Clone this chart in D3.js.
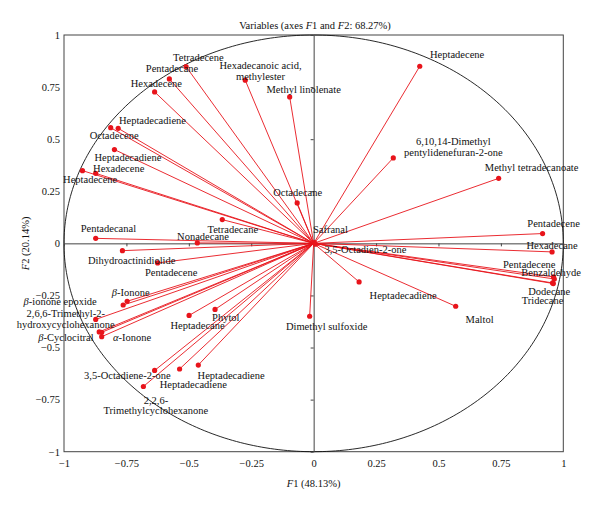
<!DOCTYPE html>
<html>
<head>
<meta charset="utf-8">
<script src="https://cdn.jsdelivr.net/npm/d3@7"></script>
<style>
  body { margin: 0; background: #fff; }
  svg text { font-family: "Liberation Serif", "DejaVu Serif", serif; }
</style>
</head>
<body>
<div id="chart"></div>
<script>
// Variable names (\n = line break in label)
const names = [
  'Tetradecene', 'Pentadecane', 'Hexadecene', 'Hexadecanoic acid,\nmethylester', 'Methyl linolenate',
  'Heptadecadiene', 'Octadecene', 'Heptadecadiene', 'Hexadecene', 'Heptadecene',
  'Octadecane', 'Tetradecane', 'Pentadecanal', 'Nonadecane', 'Dihydroactinidiolide',
  'Pentadecene', 'β-Ionone', 'β-ionone epoxide', '2,6,6-Trimethyl-2-\nhydroxycyclohexanone', 'β-Cyclocitral',
  '', 'α-Ionone', 'Heptadecane', 'Phytol', '3,5-Octadiene-2-one',
  '2,2,6-\nTrimethylcyclohexanone', 'Heptadecadiene', 'Heptadecadiene', 'Dimethyl sulfoxide', 'Heptadecene',
  '6,10,14-Dimethyl\npentylidenefuran-2-one', 'Methyl tetradecanoate', 'Pentadecene', 'Hexadecane', 'Pentadecene',
  'Benzaldehyde', 'Dodecane', 'Tridecane', 'Heptadecadiene', 'Maltol',
  'Safranal', '3,5-Octadien-2-one'
];
// Loadings on F1
const f1 = [
  -0.511, -0.578, -0.637, -0.274, -0.096,
  -0.783, -0.813, -0.798, -0.873, -0.926,
  -0.066, -0.366, -0.873, -0.466, -0.766,
  -0.625, -0.747, -0.763, -0.873, -0.859,
  -0.849, -0.849, -0.499, -0.395, -0.637,
  -0.682, -0.537, -0.462, -0.016, 0.425,
  0.319, 0.741, 0.917, 0.955, 0.961,
  0.964, 0.957, 0.960, 0.182, 0.569,
  0.003, 0.007
];
// Loadings on F2
const f2 = [
  0.848, 0.789, 0.727, 0.783, 0.703,
  0.552, 0.555, 0.450, 0.336, 0.349,
  0.194, 0.114, 0.024, 0.002, -0.035,
  -0.094, -0.278, -0.296, -0.365, -0.425,
  -0.427, -0.448, -0.346, -0.317, -0.610,
  -0.687, -0.603, -0.584, -0.350, 0.850,
  0.410, 0.312, 0.047, -0.041, -0.161,
  -0.171, -0.190, -0.193, -0.185, -0.302,
  0.003, -0.004
];
const tickValues = [-1, -0.75, -0.5, -0.25, 0, 0.25, 0.5, 0.75, 1];

// label placement (pixel offsets from the point, centre/baseline of first line)
const labelOffsets = [
  [12.3, -6], [2.7, -6.6], [1.7, -5.3], [15.3, -11], [14, -4.3],
  [34.3, -4.7], [3.5, 11.7], [13.5, 11.3], [23, -1], [7.7, 12],
  [0.5, -7.3], [10.5, 13], [12.7, -6.4], [5.7, -2.6], [9.3, 13.3],
  [13.5, 13], [3.6, -5.7], [-63, 0.4], [-30, -2.7], [-33.2, 8.7],
  [0, 0], [30.4, 4], [8.5, 13.3], [10.8, 12], [-27.3, 9],
  [12.5, 17.3], [13.7, 19], [32.8, 14.4], [17, 13.6], [37.4, -8],
  [60, -12.6], [33, -7.7], [11, -7], [0, -3], [-24.3, -8.6],
  [-3.2, -3.3], [-3.3, 12.4], [-10.8, 20.7], [44, 17], [23.9, 16.3],
  [16, -9.3], [50, 8.8]
];

const width = 600, height = 510;
const svg = d3.select('#chart').append('svg')
  .attr('width', width)
  .attr('height', height);

const x = d3.scaleLinear().domain([-1, 1]).range([64, 563.3]);
const y = d3.scaleLinear().domain([-1, 1]).range([451.7, 35]);
const fmt = d3.format('~g');
const axisColor = '#444';
const red = '#e8141b';

const data = names.map((n, i) => ({ name: n, f1: f1[i], f2: f2[i], off: labelOffsets[i] }));

// frame
svg.append('rect')
  .attr('x', x(-1)).attr('y', y(1))
  .attr('width', x(1) - x(-1)).attr('height', y(-1) - y(1))
  .attr('fill', 'none').attr('stroke', axisColor).attr('stroke-width', 1);

// correlation circle (unit circle in data space)
const circle = d3.line()
  .x(a => x(Math.cos(a)))
  .y(a => y(Math.sin(a)));
svg.append('path')
  .datum(d3.range(0, 361).map(d => d * Math.PI / 180))
  .attr('d', circle)
  .attr('fill', 'none').attr('stroke', '#111').attr('stroke-width', 0.9);

// zero axes with small ticks
const zeroX = svg.append('g')
  .attr('transform', `translate(0,${y(0)})`)
  .call(d3.axisBottom(x).tickValues(tickValues).tickSize(3).tickFormat('').tickSizeOuter(0));
const zeroY = svg.append('g')
  .attr('transform', `translate(${x(0)},0)`)
  .call(d3.axisLeft(y).tickValues(tickValues).tickSize(3).tickFormat('').tickSizeOuter(0));
[zeroX, zeroY].forEach(g => {
  g.selectAll('path, line').attr('stroke', axisColor).attr('stroke-width', 1);
});

// tick labels on frame
const xLab = svg.append('g')
  .attr('transform', `translate(0,${y(-1)})`)
  .call(d3.axisBottom(x).tickValues(tickValues).tickSize(0).tickPadding(8).tickFormat(fmt));
const yLab = svg.append('g')
  .attr('transform', `translate(${x(-1)},0)`)
  .call(d3.axisLeft(y).tickValues(tickValues).tickSize(0).tickPadding(4).tickFormat(fmt));
[xLab, yLab].forEach(g => {
  g.select('.domain').remove();
  g.selectAll('text')
    .attr('font-family', '"Liberation Serif", serif')
    .attr('font-size', 10.5)
    .attr('fill', '#111');
});

// vectors
svg.append('g')
  .selectAll('line')
  .data(data)
  .enter()
  .append('line')
  .attr('x1', x(0)).attr('y1', y(0))
  .attr('x2', d => x(d.f1)).attr('y2', d => y(d.f2))
  .attr('stroke', red).attr('stroke-width', 0.9);

svg.append('g')
  .selectAll('circle')
  .data(data)
  .enter()
  .append('circle')
  .attr('cx', d => x(d.f1)).attr('cy', d => y(d.f2))
  .attr('r', 2.6)
  .attr('fill', red);

// labels, greek letters in italic
function addRich(textSel, str) {
  str.split(/([αβ])/).forEach(part => {
    if (!part) return;
    const t = textSel.append('tspan').text(part);
    if (part === 'α' || part === 'β') t.attr('font-style', 'italic');
  });
}

const labels = svg.append('g');
data.forEach(d => {
  if (!d.name) return;
  const lines = d.name.split('\n');
  const lh = d.name.startsWith('2,2,6') ? 10 : 11;
  lines.forEach((ln, k) => {
    const t = labels.append('text')
      .attr('x', x(d.f1) + d.off[0])
      .attr('y', y(d.f2) + d.off[1] + k * lh)
      .attr('text-anchor', 'middle')
      .attr('font-size', 10.5)
      .attr('fill', '#111');
    addRich(t, ln);
  });
});

// title
const title = svg.append('text')
  .attr('x', 315).attr('y', 29.3)
  .attr('text-anchor', 'middle')
  .attr('font-size', 10.5)
  .attr('fill', '#111');
title.append('tspan').text('Variables (axes ');
title.append('tspan').attr('font-style', 'italic').text('F');
title.append('tspan').text('1 and ');
title.append('tspan').attr('font-style', 'italic').text('F');
title.append('tspan').text('2: 68.27%)');

// axis titles
const xt = svg.append('text')
  .attr('x', x(0)).attr('y', 487)
  .attr('text-anchor', 'middle')
  .attr('font-size', 10.5).attr('fill', '#111');
xt.append('tspan').attr('font-style', 'italic').text('F');
xt.append('tspan').text('1 (48.13%)');

const yt = svg.append('text')
  .attr('transform', `translate(29,${y(0)}) rotate(-90)`)
  .attr('text-anchor', 'middle')
  .attr('font-size', 10.5).attr('fill', '#111');
yt.append('tspan').attr('font-style', 'italic').text('F');
yt.append('tspan').text('2 (20.14%)');
</script>
</body>
</html>
